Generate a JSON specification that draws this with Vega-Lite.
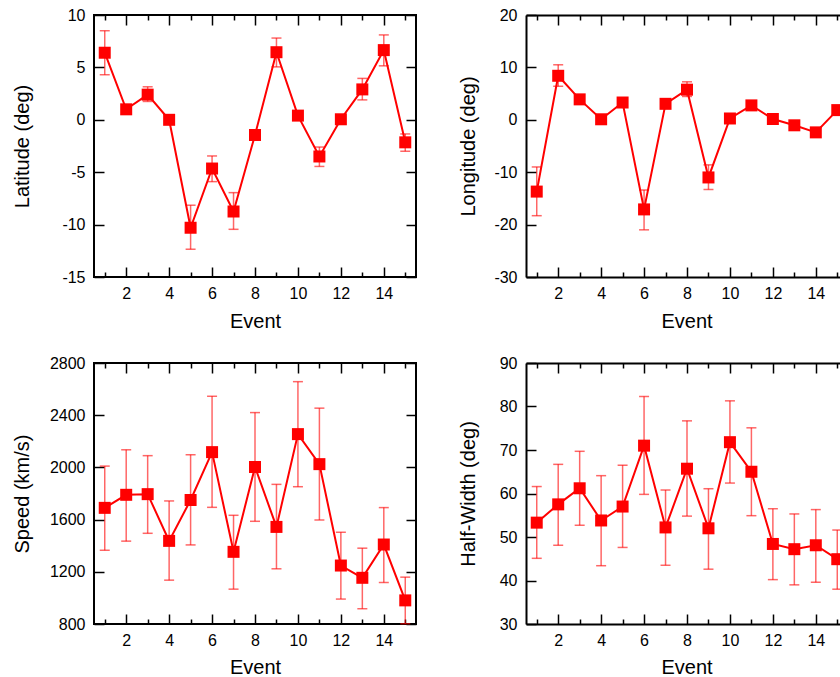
{
  "$schema": "https://vega.github.io/schema/vega-lite/v6.json",
  "padding": {"left": 10, "top": 6, "right": 0, "bottom": 0},
  "bounds": "flush",
  "columns": 2,
  "spacing": {"row": 86, "column": 110},
  "config": {
    "font": "Liberation Sans",
    "view": {"stroke": "#000", "strokeWidth": 2},
    "axis": {"domain": false, "domainColor": "#000", "domainWidth": 2, "grid": false, "tickColor": "#000", "tickWidth": 1.5, "labelColor": "#000", "titleColor": "#000", "labelFontSize": 16, "titleFontSize": 20, "titleFontWeight": "normal", "labelFont": "Liberation Sans", "titleFont": "Liberation Sans", "titleBaseline": "alphabetic"}
  },
  "datasets": {
    "lat": [
      {"e": 1, "v": 6.4, "lo": 4.3, "hi": 8.5},
      {"e": 2, "v": 1.0, "lo": 0.7, "hi": 1.3},
      {"e": 3, "v": 2.4, "lo": 1.75, "hi": 3.15},
      {"e": 4, "v": 0.0, "lo": -0.3, "hi": 0.3},
      {"e": 5, "v": -10.3, "lo": -12.35, "hi": -8.15},
      {"e": 6, "v": -4.65, "lo": -5.9, "hi": -3.45},
      {"e": 7, "v": -8.75, "lo": -10.45, "hi": -6.95},
      {"e": 8, "v": -1.45, "lo": -1.75, "hi": -1.15},
      {"e": 9, "v": 6.45, "lo": 5.05, "hi": 7.8},
      {"e": 10, "v": 0.4, "lo": 0.1, "hi": 0.7},
      {"e": 11, "v": -3.5, "lo": -4.45, "hi": -2.6},
      {"e": 12, "v": 0.05, "lo": -0.25, "hi": 0.35},
      {"e": 13, "v": 2.9, "lo": 1.9, "hi": 3.95},
      {"e": 14, "v": 6.65, "lo": 5.15, "hi": 8.1},
      {"e": 15, "v": -2.15, "lo": -3.0, "hi": -1.35}
    ],
    "lon": [
      {"e": 1, "v": -13.7, "lo": -18.3, "hi": -9.0},
      {"e": 2, "v": 8.4, "lo": 6.4, "hi": 10.5},
      {"e": 3, "v": 3.9, "lo": 3.4, "hi": 4.4},
      {"e": 4, "v": 0.1, "lo": -0.4, "hi": 0.6},
      {"e": 5, "v": 3.3, "lo": 2.8, "hi": 3.8},
      {"e": 6, "v": -17.1, "lo": -21.0, "hi": -13.4},
      {"e": 7, "v": 3.05, "lo": 2.55, "hi": 3.55},
      {"e": 8, "v": 5.75, "lo": 4.45, "hi": 7.25},
      {"e": 9, "v": -11.0, "lo": -13.3, "hi": -8.6},
      {"e": 10, "v": 0.25, "lo": -0.25, "hi": 0.75},
      {"e": 11, "v": 2.75, "lo": 2.25, "hi": 3.25},
      {"e": 12, "v": 0.15, "lo": -0.35, "hi": 0.65},
      {"e": 13, "v": -1.05, "lo": -1.55, "hi": -0.55},
      {"e": 14, "v": -2.4, "lo": -2.9, "hi": -1.9},
      {"e": 15, "v": 1.85, "lo": 1.35, "hi": 2.35}
    ],
    "speed": [
      {"e": 1, "v": 1690, "lo": 1365, "hi": 2010},
      {"e": 2, "v": 1790, "lo": 1435, "hi": 2135},
      {"e": 3, "v": 1795, "lo": 1495, "hi": 2090},
      {"e": 4, "v": 1437, "lo": 1136, "hi": 1743},
      {"e": 5, "v": 1750, "lo": 1406, "hi": 2097},
      {"e": 6, "v": 2117, "lo": 1694, "hi": 2545},
      {"e": 7, "v": 1353, "lo": 1067, "hi": 1633},
      {"e": 8, "v": 2003, "lo": 1587, "hi": 2420},
      {"e": 9, "v": 1544, "lo": 1223, "hi": 1870},
      {"e": 10, "v": 2255, "lo": 1852, "hi": 2657},
      {"e": 11, "v": 2025, "lo": 1597, "hi": 2454},
      {"e": 12, "v": 1248, "lo": 991, "hi": 1503},
      {"e": 13, "v": 1154, "lo": 917, "hi": 1381},
      {"e": 14, "v": 1409, "lo": 1118, "hi": 1692},
      {"e": 15, "v": 981, "lo": 802, "hi": 1159}
    ],
    "hw": [
      {"e": 1, "v": 53.3, "lo": 45.1, "hi": 61.6},
      {"e": 2, "v": 57.5, "lo": 48.1, "hi": 66.7},
      {"e": 3, "v": 61.2, "lo": 52.7, "hi": 69.7},
      {"e": 4, "v": 53.8, "lo": 43.4, "hi": 64.1},
      {"e": 5, "v": 57.0, "lo": 47.6, "hi": 66.5},
      {"e": 6, "v": 71.0, "lo": 59.8, "hi": 82.3},
      {"e": 7, "v": 52.2, "lo": 43.5, "hi": 60.8},
      {"e": 8, "v": 65.7, "lo": 54.8, "hi": 76.7},
      {"e": 9, "v": 52.0, "lo": 42.6, "hi": 61.1},
      {"e": 10, "v": 71.8, "lo": 62.4, "hi": 81.3},
      {"e": 11, "v": 65.0, "lo": 54.9, "hi": 75.1},
      {"e": 12, "v": 48.4, "lo": 40.2, "hi": 56.5},
      {"e": 13, "v": 47.2, "lo": 39.0, "hi": 55.3},
      {"e": 14, "v": 48.1, "lo": 39.6, "hi": 56.3},
      {"e": 15, "v": 44.9, "lo": 38.0, "hi": 51.6}
    ]
  },
  "concat": [
    {
      "width": 322, "height": 262,
      "data": {"name": "lat"},
      "resolve": {"axis": {"x": "independent", "y": "independent"}},
      "layer": [
        {"mark": {"type": "rule", "color": "#ff0000", "opacity": 0.6, "strokeWidth": 1.5},
         "encoding": {"x": {"field": "e", "type": "quantitative", "axis": null, "scale": {"domain": [0.5, 15.5], "nice": false, "zero": false}},
                      "y": {"field": "lo", "type": "quantitative", "axis": null, "scale": {"domain": [-15, 10], "nice": false, "zero": false}},
                      "y2": {"field": "hi"}}},
        {"mark": {"type": "tick", "orient": "horizontal", "size": 10, "thickness": 1.5, "color": "#ff0000", "opacity": 0.6},
         "encoding": {"x": {"field": "e", "type": "quantitative", "axis": null}, "y": {"field": "lo", "type": "quantitative", "axis": null}}},
        {"mark": {"type": "tick", "orient": "horizontal", "size": 10, "thickness": 1.5, "color": "#ff0000", "opacity": 0.6},
         "encoding": {"x": {"field": "e", "type": "quantitative", "axis": null}, "y": {"field": "hi", "type": "quantitative", "axis": null}}},
        {"mark": {"type": "line", "color": "#ff0000", "strokeWidth": 2},
         "encoding": {"x": {"field": "e", "type": "quantitative", "axis": {"orient": "bottom", "values": [2, 4, 6, 8, 10, 12, 14], "tickSize": -10, "labelPadding": 18, "title": "Event", "titleY": 50, "labelExpr": "'' + datum.value"}},
                      "y": {"field": "v", "type": "quantitative", "axis": {"orient": "left", "values": [-15, -10, -5, 0, 5, 10], "tickSize": -10, "labelPadding": 19, "title": "Latitude (deg)", "titleX": -66, "titleY": 131, "labelExpr": "'' + datum.value"}}}},
        {"mark": {"type": "point", "shape": "square", "filled": true, "size": 144, "color": "#ff0000", "opacity": 1},
         "encoding": {"x": {"field": "e", "type": "quantitative", "axis": null}, "y": {"field": "v", "type": "quantitative", "axis": null}}},
        {"mark": {"type": "point", "opacity": 0},
         "encoding": {"x": {"field": "e", "type": "quantitative", "axis": {"orient": "bottom", "values": [1, 3, 5, 7, 9, 11, 13, 15], "tickSize": -5, "labels": false, "title": null}},
                      "y": {"field": "v", "type": "quantitative", "axis": {"orient": "right", "values": [-15, -10, -5, 0, 5, 10], "tickSize": -10, "labels": false, "title": null}}}},
        {"mark": {"type": "point", "opacity": 0},
         "encoding": {"x": {"field": "e", "type": "quantitative", "axis": {"orient": "top", "values": [2, 4, 6, 8, 10, 12, 14], "tickSize": -10, "labels": false, "title": null}},
                      "y": {"field": "v", "type": "quantitative", "axis": null}}},
        {"mark": {"type": "point", "opacity": 0},
         "encoding": {"x": {"field": "e", "type": "quantitative", "axis": {"orient": "top", "values": [1, 3, 5, 7, 9, 11, 13, 15], "tickSize": -5, "labels": false, "title": null}},
                      "y": {"field": "v", "type": "quantitative", "axis": null}}}
      ]
    },
    {
      "width": 314, "height": 262,
      "view": {"stroke": null},
      "data": {"name": "lon"},
      "resolve": {"axis": {"x": "independent", "y": "independent"}},
      "layer": [
        {"mark": {"type": "rule", "color": "#ff0000", "opacity": 0.6, "strokeWidth": 1.5, "clip": true},
         "encoding": {"x": {"field": "e", "type": "quantitative", "axis": null, "scale": {"domain": [0.5, 15.127], "nice": false, "zero": false}},
                      "y": {"field": "lo", "type": "quantitative", "axis": null, "scale": {"domain": [-30, 20], "nice": false, "zero": false}},
                      "y2": {"field": "hi"}}},
        {"mark": {"type": "tick", "orient": "horizontal", "size": 10, "thickness": 1.5, "color": "#ff0000", "opacity": 0.6, "clip": true},
         "encoding": {"x": {"field": "e", "type": "quantitative", "axis": null}, "y": {"field": "lo", "type": "quantitative", "axis": null}}},
        {"mark": {"type": "tick", "orient": "horizontal", "size": 10, "thickness": 1.5, "color": "#ff0000", "opacity": 0.6, "clip": true},
         "encoding": {"x": {"field": "e", "type": "quantitative", "axis": null}, "y": {"field": "hi", "type": "quantitative", "axis": null}}},
        {"mark": {"type": "line", "color": "#ff0000", "strokeWidth": 2, "clip": true},
         "encoding": {"x": {"field": "e", "type": "quantitative", "axis": {"orient": "bottom", "domain": true, "values": [2, 4, 6, 8, 10, 12, 14], "tickSize": -10, "labelPadding": 18, "title": "Event", "titleX": 160.5, "titleY": 50, "labelExpr": "'' + datum.value"}},
                      "y": {"field": "v", "type": "quantitative", "axis": {"orient": "left", "domain": true, "values": [-30, -20, -10, 0, 10, 20], "tickSize": -10, "labelPadding": 19, "title": "Longitude (deg)", "titleX": -52, "titleY": 131, "labelExpr": "'' + datum.value"}}}},
        {"mark": {"type": "point", "shape": "square", "filled": true, "size": 144, "color": "#ff0000", "opacity": 1, "clip": true},
         "encoding": {"x": {"field": "e", "type": "quantitative", "axis": null}, "y": {"field": "v", "type": "quantitative", "axis": null}}},
        {"mark": {"type": "point", "opacity": 0, "clip": true},
         "encoding": {"x": {"field": "e", "type": "quantitative", "axis": {"orient": "bottom", "values": [1, 3, 5, 7, 9, 11, 13, 15], "tickSize": -5, "labels": false, "title": null}},
                      "y": {"field": "v", "type": "quantitative", "axis": null}}},
        {"mark": {"type": "point", "opacity": 0, "clip": true},
         "encoding": {"x": {"field": "e", "type": "quantitative", "axis": {"orient": "top", "domain": true, "values": [2, 4, 6, 8, 10, 12, 14], "tickSize": -10, "labels": false, "title": null}},
                      "y": {"field": "v", "type": "quantitative", "axis": null}}},
        {"mark": {"type": "point", "opacity": 0, "clip": true},
         "encoding": {"x": {"field": "e", "type": "quantitative", "axis": {"orient": "top", "values": [1, 3, 5, 7, 9, 11, 13, 15], "tickSize": -5, "labels": false, "title": null}},
                      "y": {"field": "v", "type": "quantitative", "axis": null}}}
      ]
    },
    {
      "width": 322, "height": 261,
      "data": {"name": "speed"},
      "resolve": {"axis": {"x": "independent", "y": "independent"}},
      "layer": [
        {"mark": {"type": "rule", "color": "#ff0000", "opacity": 0.6, "strokeWidth": 1.5},
         "encoding": {"x": {"field": "e", "type": "quantitative", "axis": null, "scale": {"domain": [0.5, 15.5], "nice": false, "zero": false}},
                      "y": {"field": "lo", "type": "quantitative", "axis": null, "scale": {"domain": [800, 2800], "nice": false, "zero": false}},
                      "y2": {"field": "hi"}}},
        {"mark": {"type": "tick", "orient": "horizontal", "size": 10, "thickness": 1.5, "color": "#ff0000", "opacity": 0.6},
         "encoding": {"x": {"field": "e", "type": "quantitative", "axis": null}, "y": {"field": "lo", "type": "quantitative", "axis": null}}},
        {"mark": {"type": "tick", "orient": "horizontal", "size": 10, "thickness": 1.5, "color": "#ff0000", "opacity": 0.6},
         "encoding": {"x": {"field": "e", "type": "quantitative", "axis": null}, "y": {"field": "hi", "type": "quantitative", "axis": null}}},
        {"mark": {"type": "line", "color": "#ff0000", "strokeWidth": 2},
         "encoding": {"x": {"field": "e", "type": "quantitative", "axis": {"orient": "bottom", "values": [2, 4, 6, 8, 10, 12, 14], "tickSize": -10, "labelPadding": 18, "title": "Event", "titleY": 49, "labelExpr": "'' + datum.value"}},
                      "y": {"field": "v", "type": "quantitative", "axis": {"orient": "left", "values": [800, 1200, 1600, 2000, 2400, 2800], "tickSize": -10, "labelPadding": 19, "title": "Speed (km/s)", "titleX": -66, "titleY": 130.5, "labelExpr": "'' + datum.value"}}}},
        {"mark": {"type": "point", "shape": "square", "filled": true, "size": 144, "color": "#ff0000", "opacity": 1},
         "encoding": {"x": {"field": "e", "type": "quantitative", "axis": null}, "y": {"field": "v", "type": "quantitative", "axis": null}}},
        {"mark": {"type": "point", "opacity": 0},
         "encoding": {"x": {"field": "e", "type": "quantitative", "axis": {"orient": "bottom", "values": [1, 3, 5, 7, 9, 11, 13, 15], "tickSize": -5, "labels": false, "title": null}},
                      "y": {"field": "v", "type": "quantitative", "axis": {"orient": "right", "values": [800, 1200, 1600, 2000, 2400, 2800], "tickSize": -10, "labels": false, "title": null}}}},
        {"mark": {"type": "point", "opacity": 0},
         "encoding": {"x": {"field": "e", "type": "quantitative", "axis": {"orient": "top", "values": [2, 4, 6, 8, 10, 12, 14], "tickSize": -10, "labels": false, "title": null}},
                      "y": {"field": "v", "type": "quantitative", "axis": null}}},
        {"mark": {"type": "point", "opacity": 0},
         "encoding": {"x": {"field": "e", "type": "quantitative", "axis": {"orient": "top", "values": [1, 3, 5, 7, 9, 11, 13, 15], "tickSize": -5, "labels": false, "title": null}},
                      "y": {"field": "v", "type": "quantitative", "axis": null}}}
      ]
    },
    {
      "width": 314, "height": 261,
      "view": {"stroke": null},
      "data": {"name": "hw"},
      "resolve": {"axis": {"x": "independent", "y": "independent"}},
      "layer": [
        {"mark": {"type": "rule", "color": "#ff0000", "opacity": 0.6, "strokeWidth": 1.5, "clip": true},
         "encoding": {"x": {"field": "e", "type": "quantitative", "axis": null, "scale": {"domain": [0.5, 15.127], "nice": false, "zero": false}},
                      "y": {"field": "lo", "type": "quantitative", "axis": null, "scale": {"domain": [30, 90], "nice": false, "zero": false}},
                      "y2": {"field": "hi"}}},
        {"mark": {"type": "tick", "orient": "horizontal", "size": 10, "thickness": 1.5, "color": "#ff0000", "opacity": 0.6, "clip": true},
         "encoding": {"x": {"field": "e", "type": "quantitative", "axis": null}, "y": {"field": "lo", "type": "quantitative", "axis": null}}},
        {"mark": {"type": "tick", "orient": "horizontal", "size": 10, "thickness": 1.5, "color": "#ff0000", "opacity": 0.6, "clip": true},
         "encoding": {"x": {"field": "e", "type": "quantitative", "axis": null}, "y": {"field": "hi", "type": "quantitative", "axis": null}}},
        {"mark": {"type": "line", "color": "#ff0000", "strokeWidth": 2, "clip": true},
         "encoding": {"x": {"field": "e", "type": "quantitative", "axis": {"orient": "bottom", "domain": true, "values": [2, 4, 6, 8, 10, 12, 14], "tickSize": -10, "labelPadding": 18, "title": "Event", "titleX": 160.5, "titleY": 49, "labelExpr": "'' + datum.value"}},
                      "y": {"field": "v", "type": "quantitative", "axis": {"orient": "left", "domain": true, "values": [30, 40, 50, 60, 70, 80, 90], "tickSize": -10, "labelPadding": 19, "title": "Half-Width (deg)", "titleX": -52, "titleY": 130.5, "labelExpr": "'' + datum.value"}}}},
        {"mark": {"type": "point", "shape": "square", "filled": true, "size": 144, "color": "#ff0000", "opacity": 1, "clip": true},
         "encoding": {"x": {"field": "e", "type": "quantitative", "axis": null}, "y": {"field": "v", "type": "quantitative", "axis": null}}},
        {"mark": {"type": "point", "opacity": 0, "clip": true},
         "encoding": {"x": {"field": "e", "type": "quantitative", "axis": {"orient": "bottom", "values": [1, 3, 5, 7, 9, 11, 13, 15], "tickSize": -5, "labels": false, "title": null}},
                      "y": {"field": "v", "type": "quantitative", "axis": null}}},
        {"mark": {"type": "point", "opacity": 0, "clip": true},
         "encoding": {"x": {"field": "e", "type": "quantitative", "axis": {"orient": "top", "domain": true, "values": [2, 4, 6, 8, 10, 12, 14], "tickSize": -10, "labels": false, "title": null}},
                      "y": {"field": "v", "type": "quantitative", "axis": null}}},
        {"mark": {"type": "point", "opacity": 0, "clip": true},
         "encoding": {"x": {"field": "e", "type": "quantitative", "axis": {"orient": "top", "values": [1, 3, 5, 7, 9, 11, 13, 15], "tickSize": -5, "labels": false, "title": null}},
                      "y": {"field": "v", "type": "quantitative", "axis": null}}}
      ]
    }
  ]
}
